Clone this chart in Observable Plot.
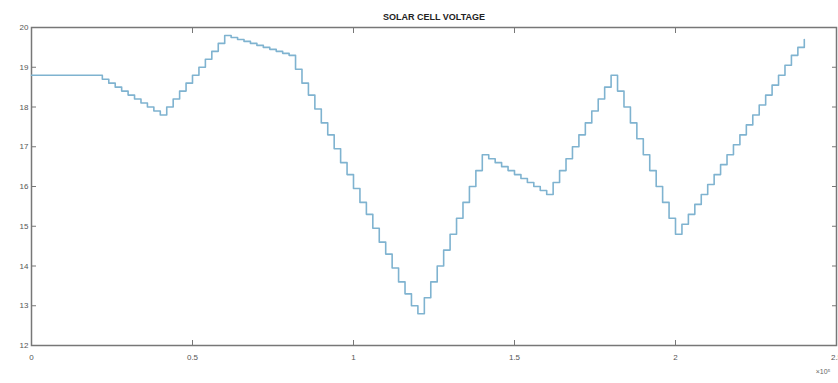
<!DOCTYPE html>
<html>
<head>
<meta charset="utf-8">
<script src="https://cdn.jsdelivr.net/npm/d3@7"></script>
<script src="https://cdn.jsdelivr.net/npm/@observablehq/plot@0.6"></script>
<style>
  html, body { margin: 0; padding: 0; background: #fff; }
  #chart svg { display: block; }
</style>
</head>
<body>
<div id="chart"></div>
<script>
const title = "SOLAR CELL VOLTAGE";
const sampleStep = 2000; // time between voltage updates
// Voltage, one value per update (step-after)
const voltage = [
  18.8, 18.8, 18.8, 18.8, 18.8, 18.8, 18.8, 18.8, 18.8, 18.8, 18.8,
  18.7, 18.6, 18.5, 18.4, 18.3, 18.2, 18.1, 18.0, 17.9, 17.8,
  18.0, 18.2, 18.4, 18.6, 18.8, 19.0, 19.2, 19.4, 19.6, 19.8,
  19.75, 19.7, 19.65, 19.6, 19.55, 19.5, 19.45, 19.4, 19.35, 19.3,
  18.95, 18.6, 18.3, 17.95, 17.6, 17.3, 16.95, 16.6, 16.3, 15.95,
  15.6, 15.3, 14.95, 14.6, 14.3, 13.95, 13.6, 13.3, 13.0, 12.8,
  13.2, 13.6, 14.0, 14.4, 14.8, 15.2, 15.6, 16.0, 16.4, 16.8,
  16.7, 16.6, 16.5, 16.4, 16.3, 16.2, 16.1, 16.0, 15.9, 15.8,
  16.1, 16.4, 16.7, 17.0, 17.3, 17.6, 17.9, 18.2, 18.5, 18.8,
  18.4, 18.0, 17.6, 17.2, 16.8, 16.4, 16.0, 15.6, 15.2, 14.8,
  15.05, 15.3, 15.55, 15.8, 16.05, 16.3, 16.55, 16.8, 17.05, 17.3,
  17.55, 17.8, 18.05, 18.3, 18.55, 18.8, 19.05, 19.3, 19.5, 19.7
];
const xTicks = [0, 50000, 100000, 150000, 200000, 250000];
const yTicks = [12, 13, 14, 15, 16, 17, 18, 19, 20];

const data = voltage.map((v, i) => ({t: i * sampleStep, v}));

const gray = "#777";
const noLabel = () => "";
const chart = Plot.plot({
  width: 838,
  height: 383,
  marginLeft: 31,
  marginRight: 2,
  marginTop: 27,
  marginBottom: 38,
  style: {fontFamily: "Liberation Sans, Arial, sans-serif", fontSize: "8px", color: "#555", background: "#fff"},
  x: {domain: [0, 250000]},
  y: {domain: [12, 20]},
  marks: [
    Plot.frame({stroke: gray, strokeWidth: 1.5}),
    Plot.axisX({anchor: "bottom", ticks: xTicks, tickSize: -5, tickPadding: 14, tickFormat: d => d3.format("~g")(d / 1e5), label: null, stroke: gray, fill: "#555"}),
    Plot.axisX({anchor: "top", ticks: xTicks, tickSize: -5, tickFormat: noLabel, label: null, stroke: gray}),
    Plot.axisY({anchor: "left", ticks: yTicks, tickSize: -5, tickPadding: 8, label: null, stroke: gray, fill: "#555"}),
    Plot.axisY({anchor: "right", ticks: yTicks, tickSize: -5, tickFormat: noLabel, label: null, stroke: gray}),
    Plot.line(data, {x: "t", y: "v", curve: "step-after", stroke: "#7fb3d0", strokeWidth: 1.6}),
    Plot.text([title], {frameAnchor: "top", dy: -14, fontWeight: "bold", fontSize: 9, fill: "#222"}),
    Plot.text(["×10⁵"], {frameAnchor: "bottom-right", dx: -6, dy: 28, fontSize: 7, fill: "#666"})
  ]
});
document.getElementById("chart").appendChild(chart);
</script>
</body>
</html>
